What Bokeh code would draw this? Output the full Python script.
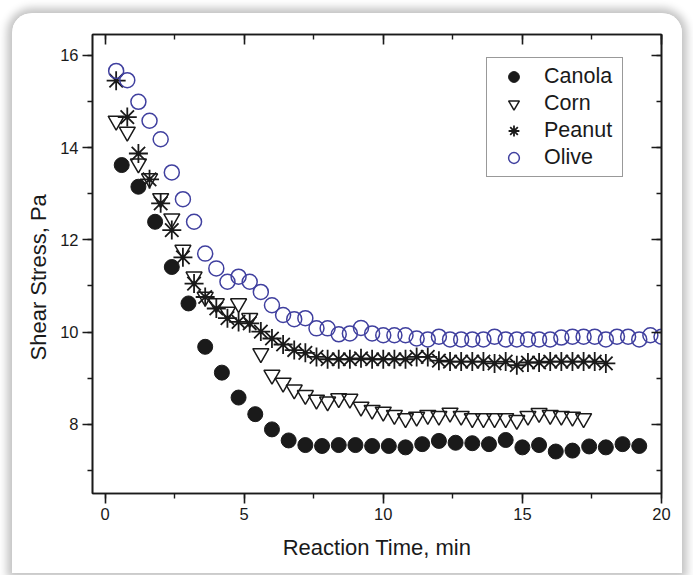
from bokeh.plotting import figure
from bokeh.models import (Range1d, LinearAxis, SingleIntervalTicker, CustomJSTickFormatter,
                          Legend, LegendItem, Title)
from bokeh.embed import file_html
from bokeh.resources import INLINE

# ---- data ----
canola_time = [0.6, 1.2, 1.8, 2.4, 3.0, 3.6, 4.2, 4.8, 5.4, 6.0, 6.6, 7.2, 7.8, 8.4, 9.0, 9.6,
               10.2, 10.8, 11.4, 12.0, 12.6, 13.2, 13.8, 14.4, 15.0, 15.6, 16.2, 16.8, 17.4,
               18.0, 18.6, 19.2]
canola_stress = [13.62, 13.15, 12.39, 11.41, 10.62, 9.68, 9.12, 8.58, 8.22, 7.89, 7.65, 7.55,
                 7.53, 7.55, 7.55, 7.53, 7.53, 7.50, 7.57, 7.64, 7.60, 7.59, 7.57, 7.66, 7.50,
                 7.55, 7.41, 7.43, 7.52, 7.50, 7.57, 7.53]

corn_time = [0.4, 0.8, 1.2, 1.6, 2.0, 2.4, 2.8, 3.2, 3.6, 4.0, 4.4, 4.8, 5.2, 5.6, 6.0, 6.4,
             6.8, 7.2, 7.6, 8.0, 8.4, 8.8, 9.2, 9.6, 10.0, 10.4, 10.8, 11.2, 11.6, 12.0, 12.4,
             12.8, 13.2, 13.6, 14.0, 14.4, 14.8, 15.2, 15.6, 16.0, 16.4, 16.8, 17.2]
corn_stress = [14.58, 14.34, 13.65, 13.33, 12.90, 12.46, 11.78, 11.20, 10.76, 10.62, 10.44,
               10.62, 10.30, 9.54, 9.07, 8.90, 8.75, 8.63, 8.53, 8.49, 8.56, 8.55, 8.38, 8.31,
               8.27, 8.20, 8.13, 8.16, 8.20, 8.18, 8.25, 8.18, 8.13, 8.13, 8.13, 8.13, 8.09,
               8.18, 8.24, 8.20, 8.18, 8.16, 8.13]

peanut_time = [0.4, 0.8, 1.2, 1.6, 2.0, 2.4, 2.8, 3.2, 3.6, 4.0, 4.4, 4.8, 5.2, 5.6, 6.0, 6.4,
               6.8, 7.2, 7.6, 8.0, 8.4, 8.8, 9.2, 9.6, 10.0, 10.4, 10.8, 11.2, 11.6, 12.0, 12.4,
               12.8, 13.2, 13.6, 14.0, 14.4, 14.8, 15.2, 15.6, 16.0, 16.4, 16.8, 17.2, 17.6, 18.0]
peanut_stress = [15.45, 14.66, 13.87, 13.31, 12.79, 12.21, 11.62, 11.05, 10.76, 10.51, 10.30,
                 10.22, 10.19, 10.01, 9.86, 9.73, 9.61, 9.55, 9.46, 9.41, 9.41, 9.41, 9.43, 9.41,
                 9.41, 9.41, 9.41, 9.46, 9.46, 9.38, 9.36, 9.36, 9.36, 9.36, 9.32, 9.36, 9.28,
                 9.34, 9.34, 9.36, 9.36, 9.36, 9.36, 9.36, 9.32]

olive_time = [0.4, 0.8, 1.2, 1.6, 2.0, 2.4, 2.8, 3.2, 3.6, 4.0, 4.4, 4.8, 5.2, 5.6, 6.0, 6.4,
              6.8, 7.2, 7.6, 8.0, 8.4, 8.8, 9.2, 9.6, 10.0, 10.4, 10.8, 11.2, 11.6, 12.0, 12.4,
              12.8, 13.2, 13.6, 14.0, 14.4, 14.8, 15.2, 15.6, 16.0, 16.4, 16.8, 17.2, 17.6, 18.0,
              18.4, 18.8, 19.2, 19.6, 20.0]
olive_stress = [15.66, 15.46, 14.99, 14.58, 14.18, 13.46, 12.88, 12.39, 11.70, 11.38, 11.09,
                11.20, 11.09, 10.87, 10.58, 10.37, 10.28, 10.30, 10.08, 10.08, 9.95, 9.97, 10.09,
                9.97, 9.93, 9.93, 9.93, 9.86, 9.84, 9.90, 9.84, 9.84, 9.84, 9.84, 9.90, 9.84,
                9.84, 9.84, 9.84, 9.84, 9.88, 9.90, 9.90, 9.90, 9.84, 9.90, 9.90, 9.84, 9.93,
                9.90]

series_names = ["Canola", "Corn", "Peanut", "Olive"]
x_title = "Reaction Time, min"
y_title = "Shear Stress, Pa"

FONT = "Liberation Sans"
INK = "#1a1a1a"
BLUE = "#40409f"

p = figure(width=670, height=560, output_backend="svg", toolbar_location=None,
           x_range=Range1d(-0.45, 20.0), y_range=Range1d(6.5, 16.45),
           min_border_left=80, min_border_right=21, min_border_top=21, min_border_bottom=80)
p.grid.visible = False
p.outline_line_color = INK
p.outline_line_width = 1.6
p.background_fill_color = "white"
p.border_fill_color = "white"
p.styles = {"margin-left": "12px", "margin-top": "13px", "border-radius": "20px 20px 0 0",
            "overflow": "hidden", "box-shadow": "0 0 8px 5px rgba(0,0,0,0.24)"}

xt = SingleIntervalTicker(interval=5, num_minor_ticks=2)
yt = SingleIntervalTicker(interval=2, num_minor_ticks=2)


def style_axis(ax, tick_in, tick_out, labels):
    ax.axis_line_color = INK
    ax.axis_line_width = 1.6
    ax.major_tick_line_color = INK
    ax.major_tick_line_width = 1.6
    ax.minor_tick_line_color = INK
    ax.minor_tick_line_width = 1.4
    ax.major_tick_in = 10 if tick_in else 0
    ax.major_tick_out = 10 if tick_out else 0
    ax.minor_tick_in = 5 if tick_in else 0
    ax.minor_tick_out = 5 if tick_out else 0
    if labels:
        ax.major_label_text_font = FONT
        ax.major_label_text_font_size = "16.5px"
        ax.major_label_text_color = INK
        ax.axis_label_text_font = FONT
        ax.axis_label_text_font_size = "22px"
        ax.axis_label_text_font_style = "normal"
        ax.axis_label_text_color = INK
    else:
        ax.formatter = CustomJSTickFormatter(code="return ''")
        ax.major_label_text_color = None
        ax.major_label_standoff = 0


xa = p.xaxis[0]
xa.ticker = xt
xa.axis_label = x_title
style_axis(xa, False, True, True)
xa.major_label_standoff = 4
xa.axis_label_standoff = 12

ya = p.yaxis[0]
ya.ticker = yt
style_axis(ya, False, True, True)
ya.major_label_standoff = 4

# y-axis title as a side title, so it can sit a little below the frame centre
ytitle = Title(text=y_title, align="left", offset=133, standoff=13,
               text_font=FONT, text_font_size="22px", text_font_style="normal",
               text_color=INK)
p.add_layout(ytitle, "left")

top = LinearAxis(ticker=SingleIntervalTicker(interval=5, num_minor_ticks=2))
style_axis(top, True, False, False)
p.add_layout(top, "above")
right = LinearAxis(ticker=SingleIntervalTicker(interval=2, num_minor_ticks=2))
style_axis(right, True, False, False)
p.add_layout(right, "right")

r_canola = p.scatter(canola_time, canola_stress, marker="circle", size=15,
                     fill_color=INK, line_color=INK)
r_corn = p.scatter(corn_time, corn_stress, marker="inverted_triangle", size=16,
                   fill_color=None, line_color=INK, line_width=1.5)
r_peanut = p.scatter(peanut_time, peanut_stress, marker="asterisk", size=19,
                     line_color=INK, line_width=1.8)
r_olive = p.scatter(olive_time, olive_stress, marker="circle", size=15,
                    fill_color=None, line_color=BLUE, line_width=1.5)

legend = Legend(items=[LegendItem(label=n, renderers=[r]) for n, r in
                       zip(series_names, [r_canola, r_corn, r_peanut, r_olive])],
                location=(394, 316))
legend.label_text_font = FONT
legend.label_text_font_size = "21.5px"
legend.label_text_color = INK
legend.border_line_color = "#333333"
legend.border_line_width = 1
legend.background_fill_color = "white"
legend.background_fill_alpha = 1
legend.padding = 5
legend.spacing = 0
legend.margin = 0
legend.glyph_width = 43
legend.glyph_height = 27
legend.label_height = 27
legend.label_width = 73
legend.label_standoff = 9
p.add_layout(legend)

open("out.html", "w").write(file_html(p, INLINE))
